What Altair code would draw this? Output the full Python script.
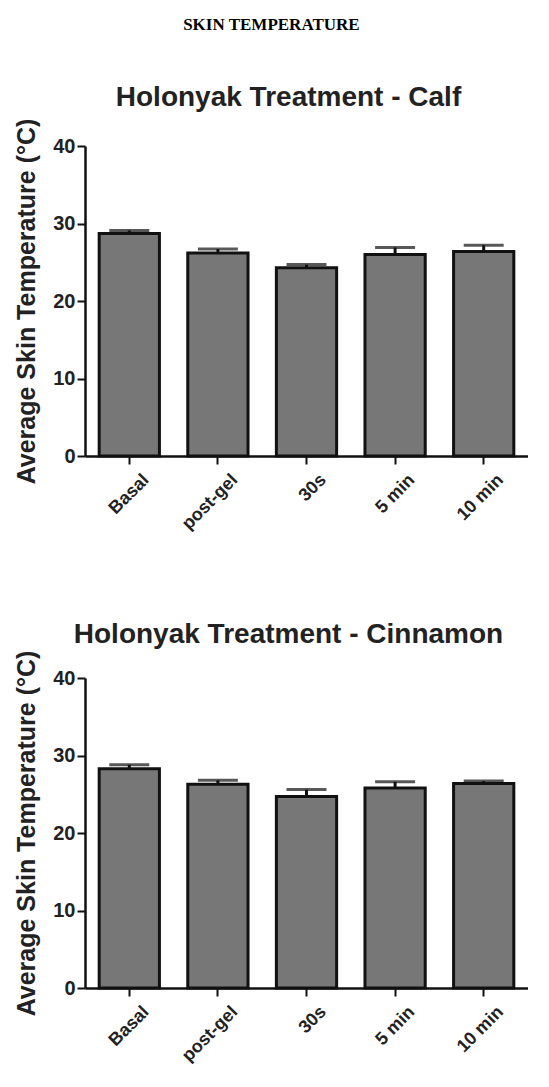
import altair as alt
import pandas as pd

categories = ["Basal", "post-gel", "30s", "5 min", "10 min"]
calf_mean = [28.7, 26.2, 24.3, 26.0, 26.4]
calf_sem = [0.4, 0.5, 0.4, 0.9, 0.8]
cinn_mean = [28.3, 26.3, 24.7, 25.8, 26.4]
cinn_sem = [0.5, 0.5, 0.9, 0.8, 0.3]

panel_titles = ["Holonyak Treatment - Calf", "Holonyak Treatment - Cinnamon"]
y_title = "Average Skin Temperature (°C)"
y_ticks = [0, 10, 20, 30, 40]

FONT = "Liberation Sans"


def panel(means, sems, title, title_offset):
    df = pd.DataFrame({
        "cat": categories,
        "mean": means,
        "upper": [m + s for m, s in zip(means, sems)],
    })
    x = alt.X("cat:N", sort=categories, title=None,
              scale=alt.Scale(paddingInner=0.32, paddingOuter=0.16),
              axis=alt.Axis(labelAngle=-45, labelFontSize=18, labelFont=FONT,
                            labelFontWeight="bold", labelColor="#222",
                            domainColor="#111", domainWidth=2.5,
                            tickColor="#111", tickWidth=2, tickSize=8,
                            labelPadding=13, labelOffset=17,
                            labelAlign="right", labelBaseline="middle"))
    y = alt.Y("mean:Q", title=y_title,
              scale=alt.Scale(domain=[0, 40], nice=False),
              axis=alt.Axis(values=y_ticks, grid=False, labelFontSize=20,
                            labelFont=FONT, labelFontWeight="bold", labelColor="#222",
                            titleFont=FONT, titleFontSize=25, titleFontWeight="bold",
                            titleColor="#222", titlePadding=13,
                            domainColor="#111", domainWidth=2.5,
                            tickColor="#111", tickWidth=2, tickSize=8, labelPadding=2))
    bars = alt.Chart(df).mark_bar(color="#777777", stroke="#111", strokeWidth=3).encode(
        x=x, y=y)
    err = alt.Chart(df).mark_rule(color="#111", strokeWidth=3).encode(
        x=alt.X("cat:N", sort=categories), y="mean:Q", y2="upper:Q")
    cap = alt.Chart(df).mark_tick(color="#111", thickness=3, size=40, orient="horizontal").encode(
        x=alt.X("cat:N", sort=categories), y="upper:Q")
    return alt.layer(err, cap, bars).properties(
        width=443, height=310,
        title=alt.TitleParams(title, font=FONT, fontSize=28, fontWeight="bold",
                              color="#222", anchor="middle", offset=title_offset, dx=-18))


chart = alt.vconcat(
    panel(calf_mean, calf_sem, panel_titles[0], 6),
    panel(cinn_mean, cinn_sem, panel_titles[1], 1),
    spacing=88,
).properties(
    title=alt.TitleParams("SKIN TEMPERATURE", font="Liberation Serif", fontSize=17,
                          fontWeight="bold", color="#000", anchor="middle", offset=50)
).configure(
    padding={"left": 6, "top": 8, "right": 0, "bottom": 0}
).configure_view(strokeWidth=0, stroke="transparent")

chart.save("out.html", embed_options={"renderer": "svg", "actions": False})
